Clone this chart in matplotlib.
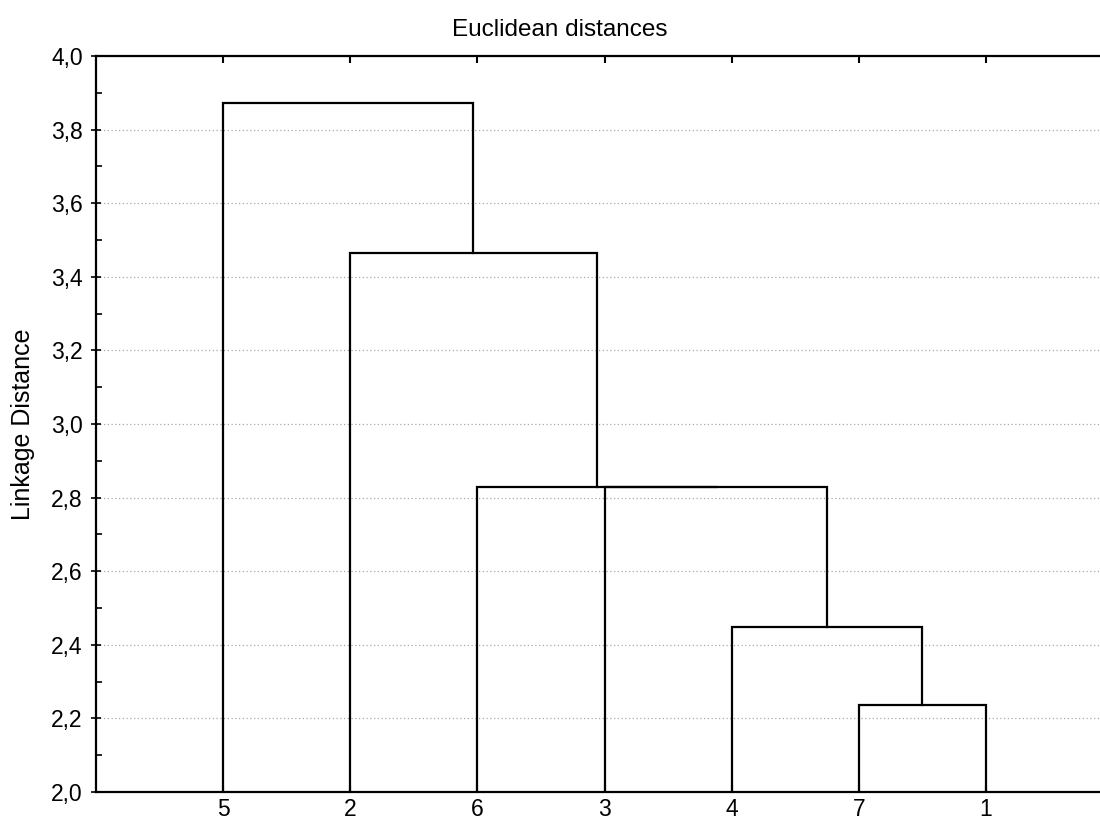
import matplotlib
matplotlib.use("Agg")
import matplotlib.pyplot as plt
from matplotlib.ticker import MultipleLocator

plt.rcParams['font.family'] = ['Liberation Sans', 'DejaVu Sans']

# objects 1..7 and the join steps of the tree (single linkage, Euclidean)
objects = ["1", "2", "3", "4", "5", "6", "7"]
# a join index < 7 is an object, >= 7 refers to the cluster built in step (index - 7)
join_left = [6, 3, 2, 5, 1, 4]
join_right = [0, 7, 8, 9, 10, 11]
join_dist = [2.236, 2.449, 2.828, 2.828, 3.464, 3.873]

y_min, y_max = 2.0, 4.0
n = len(objects)


def leaves(node):
    if node < n:
        return [node]
    k = node - n
    return leaves(join_left[k]) + leaves(join_right[k])


root = n + len(join_dist) - 1
leaf_order = leaves(root)
xpos = {leaf: i + 1 for i, leaf in enumerate(leaf_order)}
height = {leaf: y_min for leaf in leaf_order}

fig = plt.figure(figsize=(11, 8.25), dpi=100)
ax = fig.add_axes([96 / 1100, 33 / 825, 1017 / 1100, 736 / 825])

for k, (a, b, d) in enumerate(zip(join_left, join_right, join_dist)):
    xa, xb = xpos[a], xpos[b]
    ax.plot([xa, xa, xb, xb], [height[a], d, d, height[b]],
            color="black", lw=1.6, solid_joinstyle="miter", zorder=3)
    xpos[n + k] = (xa + xb) / 2
    height[n + k] = d

ax.set_xlim(0, n + 1)
ax.set_ylim(y_min, y_max)

ax.set_xticks(range(1, n + 1))
ax.set_xticklabels([objects[i] for i in leaf_order])
yt = [y_min + 0.2 * i for i in range(11)]
ax.set_yticks(yt)
ax.set_yticklabels([f"{v:.1f}".replace(".", ",") for v in yt])
ax.yaxis.set_minor_locator(MultipleLocator(0.1))

ax.tick_params(axis="x", which="major", direction="in", top=True, length=5,
               width=1.5, labelsize=16.5, pad=4)
ax.tick_params(axis="y", which="major", direction="inout", length=7,
               width=1.2, labelsize=16.5, pad=6)
ax.tick_params(axis="y", which="minor", direction="in", length=4, width=1.2)

ax.grid(axis="y", which="major", color="#a8a8a8", lw=0.9, ls=(0, (1, 2)))
ax.set_axisbelow(True)
for s in ax.spines.values():
    s.set_linewidth(1.6)

ax.set_ylabel("Linkage Distance", fontsize=18)
ax.yaxis.set_label_coords(-0.06, 0.5)
fig.text(560 / 1100, 1 - 30 / 825, "Euclidean distances", fontsize=17.5,
         ha="center", va="center")

fig.savefig("out.png", dpi=100)
